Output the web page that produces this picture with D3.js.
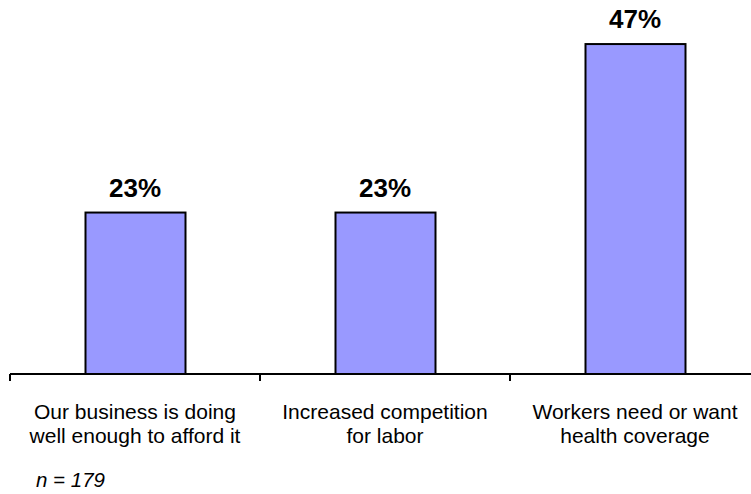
<!DOCTYPE html>
<html>
<head>
<meta charset="utf-8">
<script src="https://cdn.jsdelivr.net/npm/d3@7"></script>
<style>
  html, body { margin: 0; padding: 0; background: #fff; }
  svg { display: block; }
  text { font-family: "Liberation Sans", Arial, sans-serif; fill: #000; }
</style>
</head>
<body>
<svg id="chart" width="751" height="494"></svg>
<script>
const categories = ["Our business is doing|well enough to afford it", "Increased competition|for labor", "Workers need or want|health coverage"];
const values = [23, 23, 47];
const valueLabels = ["23%", "23%", "47%"];
const note = "n = 179";

const svg = d3.select("#chart");
const baseline = 374;
const x = d3.scaleBand().domain(categories).range([10, 760]).paddingInner(0.6).paddingOuter(0.3);
const y = d3.scaleLinear().domain([0, 50]).range([baseline, baseline - 7.02 * 50]);

// bars
svg.selectAll("rect.bar").data(values).enter().append("rect")
  .attr("class", "bar")
  .attr("x", (d, i) => x(categories[i]) + 0.5)
  .attr("y", d => y(d))
  .attr("width", x.bandwidth())
  .attr("height", d => y(0) - y(d))
  .attr("fill", "#9999FF")
  .attr("stroke", "#000")
  .attr("stroke-width", 2);

// value labels
svg.selectAll("text.val").data(values).enter().append("text")
  .attr("class", "val")
  .attr("x", (d, i) => x(categories[i]) + x.bandwidth() / 2)
  .attr("y", d => y(d) - 16)
  .attr("text-anchor", "middle")
  .attr("font-weight", "bold")
  .attr("font-size", 26)
  .text((d, i) => valueLabels[i]);

// axis
const axisG = svg.append("g").attr("transform", `translate(0,${baseline})`);
const boundaries = [10].concat(categories.map(c => x(c) - x.step() * x.paddingInner() / 2 + x.step()));
axisG.append("line").attr("x1", 10).attr("x2", 760).attr("y1", 0).attr("y2", 0)
  .attr("stroke", "#000").attr("stroke-width", 2.2);
axisG.selectAll("line.tick").data(boundaries).enter().append("line")
  .attr("class", "tick")
  .attr("x1", d => d).attr("x2", d => d)
  .attr("y1", 0).attr("y2", 7)
  .attr("stroke", "#000").attr("stroke-width", 2);

// category labels
categories.forEach(c => {
  const lines = c.split("|");
  const t = svg.append("text")
    .attr("x", x(c) + x.bandwidth() / 2)
    .attr("y", 419)
    .attr("text-anchor", "middle")
    .attr("font-size", 21);
  lines.forEach((l, j) => {
    t.append("tspan").attr("x", x(c) + x.bandwidth() / 2).attr("dy", j === 0 ? 0 : 24).text(l);
  });
});

// note
svg.append("text")
  .attr("x", 36).attr("y", 487)
  .attr("font-size", 20.5)
  .attr("font-style", "italic")
  .text(note);
</script>
</body>
</html>
